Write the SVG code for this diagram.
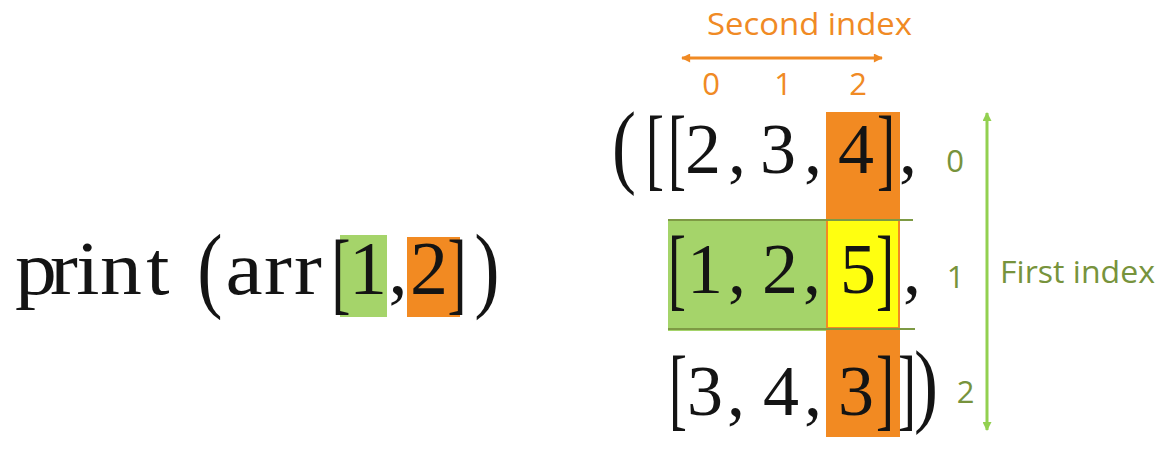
<svg xmlns="http://www.w3.org/2000/svg" width="1166" height="451" viewBox="0 0 1166 451">
<style>
  .m { font-family: "Liberation Serif", "Times New Roman", serif; font-size: 72px; fill: #141414; text-anchor: middle; }
  .ml { font-size: 76px; }
  .lbl { font-family: "Open Sans", "Liberation Sans", sans-serif; font-size: 31px; text-anchor: middle; }
  .or { fill: #F08A24; }
  .gr { fill: #77933C; }
  .grn { fill: #A5D46A; }
  .orf { fill: #F28A22; }
  .yel { fill: #FFFF10; }
  .edge { stroke: #7E9A44; stroke-width: 2; fill: none; }
</style>
<defs>
  <marker id="ao" viewBox="0 0 10 10" refX="9" refY="5" markerWidth="11" markerHeight="9" markerUnits="userSpaceOnUse" orient="auto-start-reverse">
    <path d="M0,0 L10,5 L0,10 Z" fill="#F08A24"/>
  </marker>
  <marker id="ag" viewBox="0 0 10 10" refX="9" refY="5" markerWidth="11" markerHeight="9" markerUnits="userSpaceOnUse" orient="auto-start-reverse">
    <path d="M0,0 L10,5 L0,10 Z" fill="#92D050"/>
  </marker>
</defs>
<rect width="1166" height="451" fill="#ffffff"/>

<g id="call">
  <rect class="grn" x="340" y="235" width="47" height="82"/>
  <rect class="orf" x="407" y="237" width="53" height="80"/>
  <text class="m ml" transform="scale(1.1,1)" x="32.7 58.2 80 110 143.5" y="294">print</text>
  <text class="m ml" transform="translate(210,300) scale(1,1.265)">(</text>
  <text class="m ml" transform="scale(1.1,1)" x="221.8 252.7 280" y="294">arr</text>
  <text class="m ml" transform="translate(341,302.5) scale(0.75,1.2)">[</text>
  <text class="m ml" x="368 398 429" y="294">1,2</text>
  <text class="m ml" transform="translate(457,302.5) scale(0.75,1.2)">]</text>
  <text class="m ml" transform="translate(487,300) scale(1,1.265)">)</text>
</g>

<g id="array">
  <rect class="orf" x="826" y="112" width="74" height="325"/>
  <rect class="grn" x="668" y="220" width="158" height="111"/>
  <rect class="yel" x="828" y="221" width="70" height="106"/>
  <line class="edge" x1="668" y1="220" x2="913" y2="220"/>
  <line class="edge" x1="668" y1="329" x2="915" y2="329"/>
  <!-- row 0 -->
  <text class="m" transform="translate(624,176.3) scale(1,1.3)">(</text>
  <text class="m" transform="translate(655,178.6) scale(0.75,1.25)">[</text>
  <text class="m" transform="translate(677,178.6) scale(0.75,1.25)">[</text>
  <text class="m" x="703 737 778 813 856" y="173">2,3,4</text>
  <text class="m" transform="translate(886,178.6) scale(0.75,1.25)">]</text>
  <text class="m" x="908" y="173">,</text>
  <!-- row 1 -->
  <text class="m" transform="translate(677,298.6) scale(0.75,1.25)">[</text>
  <text class="m" x="705 737 780 812 858" y="293">1,2,5</text>
  <text class="m" transform="translate(885,298.6) scale(0.75,1.25)">]</text>
  <text class="m" x="912" y="293">,</text>
  <!-- row 2 -->
  <text class="m" transform="translate(678,418.6) scale(0.75,1.25)">[</text>
  <text class="m" x="705 736 781 813 856" y="415">3,4,3</text>
  <text class="m" transform="translate(885,418.6) scale(0.75,1.25)">]</text>
  <text class="m" transform="translate(907,418.6) scale(0.75,1.25)">]</text>
  <text class="m" transform="translate(926,415.3) scale(1,1.3)">)</text>
</g>

<g id="second-index">
  <text class="lbl or" x="809.5" y="35" textLength="205" lengthAdjust="spacingAndGlyphs">Second index</text>
  <text class="lbl or" x="711" y="95">0</text>
  <text class="lbl or" x="783" y="95">1</text>
  <text class="lbl or" x="858" y="95">2</text>
</g>

<g id="first-index">
  <text class="lbl gr" x="1077.5" y="283" textLength="155" lengthAdjust="spacingAndGlyphs">First index</text>
  <text class="lbl gr" x="955" y="172">0</text>
  <text class="lbl gr" x="955.5" y="288">1</text>
  <text class="lbl gr" x="965.5" y="403">2</text>
</g>

<g id="connectors">
  <line x1="682" y1="58" x2="882" y2="58" stroke="#F08A24" stroke-width="3" marker-start="url(#ao)" marker-end="url(#ao)"/>
  <line x1="987" y1="113" x2="987" y2="430" stroke="#92D050" stroke-width="3" marker-start="url(#ag)" marker-end="url(#ag)"/>
</g>
</svg>
